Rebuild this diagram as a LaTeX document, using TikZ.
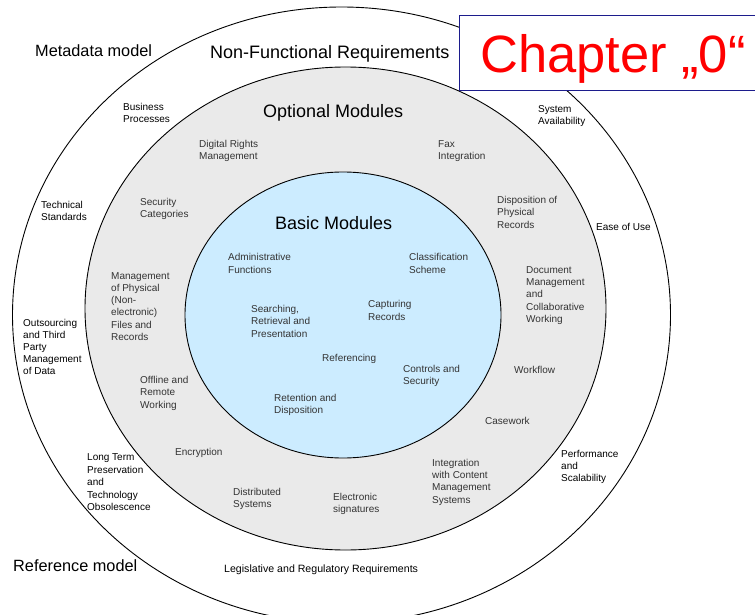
\documentclass[tikz,border=0pt]{standalone}
\usepackage{fontspec}
\setmainfont{Liberation Sans}
\definecolor{basicblue}{HTML}{CCECFF}
\definecolor{optgray}{HTML}{EAEAEA}
\definecolor{modtext}{HTML}{333333}
\definecolor{boxblue}{HTML}{1C1C8C}

\begin{document}
\begin{tikzpicture}[x=1pt,y=-1pt,
  ring/.style={draw=black,line width=0.9pt},
  big/.style={anchor=base west,inner sep=0pt,font=\fontsize{18}{21}\selectfont},
  side/.style={anchor=base west,inner sep=0pt,font=\fontsize{16.3}{19}\selectfont},
  req/.style={anchor=base west,inner sep=0pt,align=left,font=\fontsize{10}{12.1}\selectfont},
  mod/.style={anchor=base west,inner sep=0pt,align=left,text=modtext,font=\fontsize{10}{12.3}\selectfont}]
\useasboundingbox (0,0) rectangle (755,615);
\fill[white] (0,0) rectangle (755,615);
% rings
\draw[ring,fill=white] (341.5,315) ellipse [x radius=329,y radius=308];
\draw[ring,fill=optgray] (345.5,308.5) ellipse [x radius=260.5,y radius=241.5];
\draw[ring,fill=basicblue] (343,315) ellipse [x radius=158,y radius=143];
% outer labels (placed at the baseline of their last line)
\node[side] (meta) at (35,57) {Metadata model};
\node[side] (refm) at (13,571) {Reference model};
\node[big] (nfr) at (210,59) {Non-Functional Requirements};
\node[req] (bp) at (123,122.5) {Business\\Processes};
\node[req] (ts) at (41,220.5) {Technical\\Standards};
\node[req] (out) at (23,374.5) {Outsourcing\\and Third\\Party\\Management\\of Data};
\node[req,font=\fontsize{10}{12.4}\selectfont] (ltp) at (87,510.5) {Long Term\\Preservation\\and\\Technology\\Obsolescence};
\node[req,font=\fontsize{10.6}{12}\selectfont] (leg) at (224,572) {Legislative and Regulatory Requirements};
\node[req] (sa) at (538,124.5) {System\\Availability};
\node[req] (eou) at (596,230) {Ease of Use};
\node[req] (perf) at (561,481.5) {Performance\\and\\Scalability};
% optional modules
\node[big] (opt) at (263,118) {Optional Modules};
\node[mod] (drm) at (199,160) {Digital Rights\\Management};
\node[mod] (fax) at (438,160) {Fax\\Integration};
\node[mod] (dpr) at (497,228) {Disposition of\\Physical\\Records};
\node[mod] (sec) at (140,217.5) {Security\\Categories};
\node[mod] (dmc) at (526,322.5) {Document\\Management\\and\\Collaborative\\Working};
\node[mod] (mpf) at (111,340.5) {Management\\of Physical\\(Non-\\electronic)\\Files and\\Records};
\node[mod] (wf) at (514,373) {Workflow};
\node[mod] (off) at (140,408) {Offline and\\Remote\\Working};
\node[mod] (cw) at (485,424) {Casework};
\node[mod] (enc) at (175,455) {Encryption};
\node[mod] (icm) at (432,503) {Integration\\with Content\\Management\\Systems};
\node[mod] (dist) at (233,507.5) {Distributed\\Systems};
\node[mod] (esig) at (333,512.5) {Electronic\\signatures};
% basic modules
\node[big] (basic) at (275,229) {Basic Modules};
\node[mod] (adm) at (228,273) {Administrative\\Functions};
\node[mod] (cls) at (409,273) {Classification\\Scheme};
\node[mod] (cap) at (368,320) {Capturing\\Records};
\node[mod] (srp) at (251,337) {Searching,\\Retrieval and\\Presentation};
\node[mod] (refg) at (322,361) {Referencing};
\node[mod] (ctl) at (403,384.5) {Controls and\\Security};
\node[mod] (ret) at (274,413.5) {Retention and\\Disposition};
% chapter box
\draw[boxblue,line width=0.8pt,fill=white] (459,15) rectangle (760,90);
\node[anchor=base west,inner sep=0pt,text=red,font=\fontsize{52.5}{60}\selectfont] (chap) at (480,73) {Chapter „0“};
\end{tikzpicture}
\end{document}
